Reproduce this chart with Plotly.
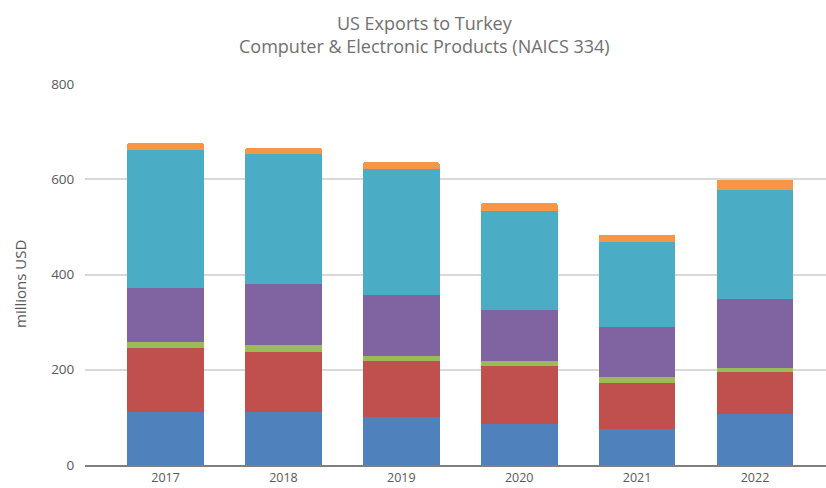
import plotly.graph_objects as go

years = ["2017", "2018", "2019", "2020", "2021", "2022"]
computer_equipment = [111, 111, 101, 86, 75, 107]
communications_equipment = [134, 126, 117, 122, 98, 88]
audio_video_equipment = [14, 15, 11, 11, 12, 9]
semiconductors = [112, 128, 129, 107, 104, 145]
instruments = [290, 274, 264, 207, 180, 228]
magnetic_media = [16, 12, 14, 18, 15, 22]

title_lines = ["US Exports to Turkey", "Computer & Electronic Products (NAICS 334)"]

series = [
    ("Computer equipment (3341)", computer_equipment, "#4F81BD"),
    ("Communications equipment (3342)", communications_equipment, "#C0504D"),
    ("Audio & video equipment (3343)", audio_video_equipment, "#9BBB59"),
    ("Semiconductors & components (3344)", semiconductors, "#8064A2"),
    ("Navigational, measuring & control instruments (3345)", instruments, "#4BACC6"),
    ("Magnetic & optical media (3346)", magnetic_media, "#F79646"),
]

fig = go.Figure()
for name, vals, color in series:
    fig.add_trace(go.Bar(x=years, y=vals, name=name,
                         marker=dict(color=color, line=dict(width=0))))

W, H = 826, 488
L, R, T, B = 85, 0, 84, 23
pw = W - L - R
ph = H - T - B

fig.update_layout(
    width=W, height=H,
    barmode="stack", bargap=0.35, barcornerradius=3,
    showlegend=False,
    plot_bgcolor="white", paper_bgcolor="white",
    margin=dict(l=L, r=R, t=T, b=B, pad=0, autoexpand=False),
    font=dict(family="Open Sans, Liberation Sans, sans-serif", color="#595959", size=13),
    xaxis=dict(range=[-0.683, 5.602], showline=True, linecolor="#7f7f7f", linewidth=2,
               showgrid=False, ticks="", automargin=False,
               tickfont=dict(size=12.5, color="#595959")),
    yaxis=dict(range=[0, 800], tickvals=[0, 200, 400, 600, 800], showgrid=True,
               gridcolor="#d9d9d9", gridwidth=1.5, zeroline=False, showline=False,
               ticks="outside", ticklen=7, tickcolor="rgba(0,0,0,0)",
               automargin=False, tickfont=dict(size=13.5, color="#595959")),
)

fig.add_annotation(text="<br>".join(title_lines), xref="paper", yref="paper",
                   x=(424 - L) / pw, y=1 + (T - 34) / ph,
                   xanchor="center", yanchor="middle", showarrow=False,
                   font=dict(size=18, color="#707070"))
fig.add_annotation(text="millions USD", textangle=-90,
                   xref="paper", yref="paper",
                   x=(20 - L) / pw, y=(H - B - 284) / ph,
                   xanchor="center", yanchor="middle", showarrow=False,
                   font=dict(size=15, color="#595959"))

fig.write_html("out.html")
